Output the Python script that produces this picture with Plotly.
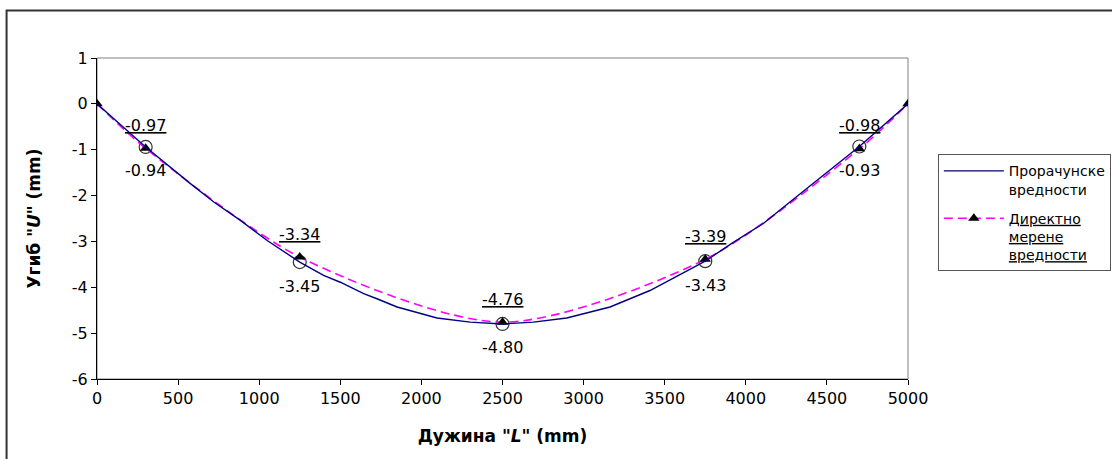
import plotly.graph_objects as go

# ---- data ----
calc_x = [0, 300, 576, 720, 884, 1049, 1250, 1397, 1500, 1644, 1726, 1850, 2096, 2301, 2500,
          2690, 2896, 3163, 3409, 3750, 3923, 4108, 4272, 4437, 4700, 5000]
calc_y = [0, -0.94, -1.74, -2.14, -2.54, -2.98, -3.45, -3.74, -3.89, -4.14, -4.25, -4.43, -4.67, -4.76, -4.80,
          -4.76, -4.67, -4.43, -4.07, -3.43, -3.02, -2.61, -2.14, -1.67, -0.93, 0]

meas_x = [0, 300, 1250, 2500, 3750, 4700, 5000]
meas_y = [0, -0.97, -3.34, -4.76, -3.39, -0.98, 0]

mark_x = [300, 1250, 2500, 3750, 4700]
mark_calc = [-0.94, -3.45, -4.80, -3.43, -0.93]
mark_meas = [-0.97, -3.34, -4.76, -3.39, -0.98]

x_ticks = [0, 500, 1000, 1500, 2000, 2500, 3000, 3500, 4000, 4500, 5000]
x_tick_text = ["0", "500", "1000", "1500", "2000", "2500", "3000", "3500", "4000", "4500", "5000"]
y_ticks = [1, 0, -1, -2, -3, -4, -5, -6]
y_tick_text = ["1", "0", "-1", "-2", "-3", "-4", "-5", "-6"]

name_calc = "Прорачунске<br>вредности"
name_meas = "<u>Директно</u><br><u>мерене</u><br><u>вредности</u>"
x_title = "<b>Дужина <i>\"L\"</i> (mm)</b>"
y_title = "<b>Угиб <i>\"U\"</i> (mm)</b>"

FONT = "DejaVu Sans"

fig = go.Figure()

# open circles at calculated points
fig.add_trace(go.Scatter(
    x=mark_x, y=mark_calc, mode="markers", showlegend=False, hoverinfo="skip",
    marker=dict(symbol="circle-open", size=13, color="#333333", line=dict(width=1.2, color="#333333")),
))

# measured values
fig.add_trace(go.Scatter(
    x=meas_x, y=meas_y, mode="lines+markers", name=name_meas, legendrank=2,
    legendgroup="m",
    line=dict(color="#FF00FF", width=1.6, dash="9px,5px", shape="spline", smoothing=0.8),
    marker=dict(symbol="triangle-up", size=10, color="black"),
))

# calculated values
fig.add_trace(go.Scatter(
    x=calc_x, y=calc_y, mode="lines", name=name_calc, legendrank=1,
    legendgroup="c",
    line=dict(color="#000080", width=1.4),
))

# value labels
for xv, yc, ym in zip(mark_x, mark_calc, mark_meas):
    fig.add_annotation(x=xv, y=ym, text=f"<u>{ym:.2f}</u>", showarrow=False, yshift=23,
                       font=dict(family=FONT, size=16, color="black"))
    fig.add_annotation(x=xv, y=yc, text=f"{yc:.2f}", showarrow=False, yshift=-24,
                       font=dict(family=FONT, size=16, color="black"))

# plot-area border (gray) and outer chart border
fig.add_shape(type="rect", xref="paper", yref="paper", x0=0, y0=0, x1=1, y1=1,
              line=dict(color="#808080", width=1), layer="below")
fig.add_shape(type="rect", xref="paper", yref="paper", x0=-0.1115, y0=-0.4, x1=1.4, y1=1.1477,
              line=dict(color="#333333", width=2), layer="below")

fig.update_layout(
    width=1112, height=459,
    margin=dict(l=96.5, r=203.7, t=57.5, b=80, autoexpand=False),
    paper_bgcolor="white", plot_bgcolor="white",
    font=dict(family=FONT, size=16, color="black"),
    showlegend=True,
    legend=dict(
        x=1.0368, y=0.70, xanchor="left", yanchor="top",
        bordercolor="#555555", borderwidth=1, bgcolor="white",
        font=dict(family=FONT, size=14, color="black"),
        valign="top", traceorder="grouped", tracegroupgap=8,
        itemwidth=60,
    ),
    xaxis=dict(
        range=[0, 5000], tickvals=x_ticks, ticktext=x_tick_text,
        showgrid=False, zeroline=False, showline=True, linecolor="black", linewidth=1,
        ticks="outside", ticklen=5, tickcolor="black",
        tickfont=dict(family=FONT, size=16),
        title=dict(text=x_title, font=dict(family=FONT, size=17), standoff=22),
    ),
    yaxis=dict(
        range=[-6, 1], tickvals=y_ticks, ticktext=y_tick_text,
        showgrid=False, zeroline=False, showline=True, linecolor="black", linewidth=1,
        ticks="outside", ticklen=5, tickcolor="black",
        tickfont=dict(family=FONT, size=16),
        title=dict(text=y_title, font=dict(family=FONT, size=17), standoff=26),
    ),
)

fig.write_html("out.html")
